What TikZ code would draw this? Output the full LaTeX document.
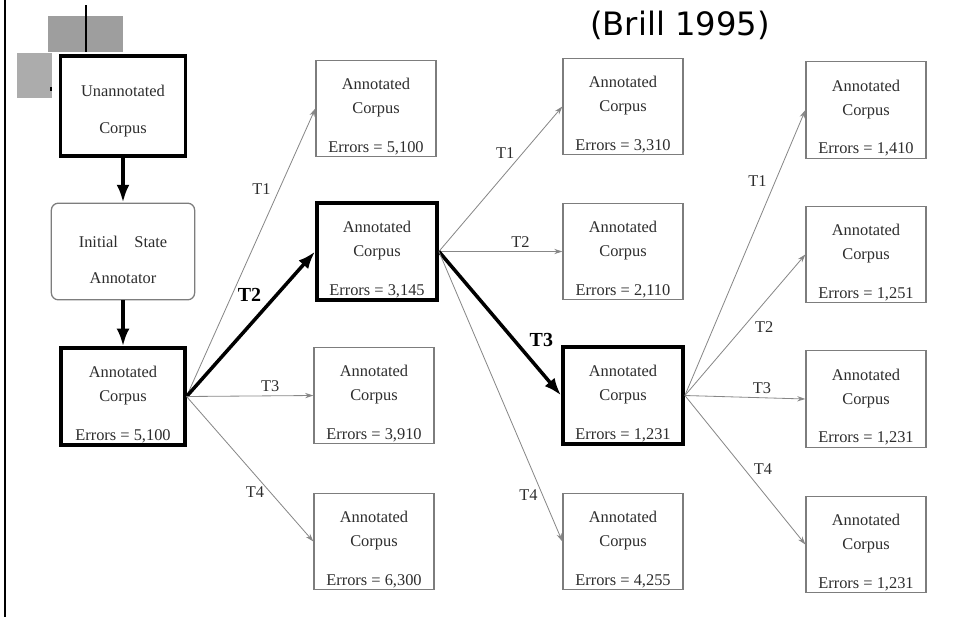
\documentclass[tikz,border=0pt]{standalone}
\usepackage{fontspec}
\setmainfont{Liberation Serif}
\newfontfamily\titlefont{DejaVu Sans}
\usetikzlibrary{arrows.meta}
\definecolor{boxgray}{RGB}{125,125,125}
\definecolor{linegray}{RGB}{135,135,135}
\definecolor{txtdark}{RGB}{45,45,45}
\definecolor{decogray}{RGB}{158,158,158}
\definecolor{decolight}{RGB}{172,172,172}
\tikzset{
  corpus/.style={rectangle, draw=boxgray, fill=white, line width=1.1pt,
    minimum width=3.6cm, minimum height=2.9cm, align=center, inner sep=0pt,
    font=\fontsize{14}{20.5}\selectfont, text=txtdark, text height=77pt},
  bestcorpus/.style={corpus, draw=black, line width=3.2pt},
  annotator/.style={corpus, rounded corners=6pt, minimum width=4.3cm},
  trans/.style={-{Stealth[length=7pt,width=4.5pt]}, draw=linegray, line width=0.7pt},
  best/.style={-{Latex[length=15pt,width=11pt]}, line width=3pt},
  tlbl/.style={font=\fontsize{14}{16}\selectfont, text=txtdark, inner sep=1pt},
  blbl/.style={font=\fontsize{17}{19}\selectfont\bfseries, inner sep=1pt}
}

\begin{document}
\begin{tikzpicture}[x=0.03cm, y=-0.03cm]
  \useasboundingbox (0,0) rectangle (953,617);

  % slide decoration
  \draw[line width=1.7pt] (5,0) -- (5,617);
  \fill[decogray] (48,16) rectangle (123,52);
  \fill[decolight] (17,53) rectangle (52,98);
  \draw[line width=2.4pt] (86,5) -- (86,52);
  \fill (50,87) rectangle (52,91);
  \node[font=\titlefont\fontsize{27.5}{30}\selectfont] (title) at (680,25) {(Brill 1995)};

  % start
  \node[bestcorpus, minimum width=3.75cm, minimum height=3cm, text height=49.5pt]
    (unann) at (123,106) {Unannotated\\[11pt]Corpus};
  \node[annotator, text height=55.5pt] (init) at (123,251.5)
    {Initial\hspace{14pt}State\\[11pt]Annotator};
  \node[bestcorpus, minimum width=3.7cm] (ann0) at (123,396.5)
    {Annotated\\Corpus\\[12.5pt]Errors = 5,100};

  % first step
  \node[corpus] (c1a) at (376,108.5) {Annotated\\Corpus\\[12.5pt]Errors = 5,100};
  \node[bestcorpus] (c1b) at (377,251.5) {Annotated\\Corpus\\[12.5pt]Errors = 3,145};
  \node[corpus] (c1c) at (374,395.5) {Annotated\\Corpus\\[12.5pt]Errors = 3,910};
  \node[corpus] (c1d) at (374,541.5) {Annotated\\Corpus\\[12.5pt]Errors = 6,300};

  % second step
  \node[corpus] (c2a) at (623,106.5) {Annotated\\Corpus\\[12.5pt]Errors = 3,310};
  \node[corpus] (c2b) at (623,251.5) {Annotated\\Corpus\\[12.5pt]Errors = 2,110};
  \node[bestcorpus] (c2c) at (623,395.5) {Annotated\\Corpus\\[12.5pt]Errors = 1,231};
  \node[corpus] (c2d) at (623,541.5) {Annotated\\Corpus\\[12.5pt]Errors = 4,255};

  % third step
  \node[corpus] (c3a) at (866,110) {Annotated\\Corpus\\[12.5pt]Errors = 1,410};
  \node[corpus] (c3b) at (866,254.5) {Annotated\\Corpus\\[12.5pt]Errors = 1,251};
  \node[corpus] (c3c) at (866,399) {Annotated\\Corpus\\[12.5pt]Errors = 1,231};
  \node[corpus] (c3d) at (866,544.5) {Annotated\\Corpus\\[12.5pt]Errors = 1,231};

  % Paths
  \draw[best] (unann) -- (init);
  \draw[best] (init) -- (ann0);

  \draw[trans] (ann0.east) -- node[tlbl, pos=0.72, left=6pt] {T1} (c1a.west);
  \draw[best] (ann0.east) -- node[blbl, pos=0.62, above left=2pt] {T2} (c1b.west);
  \draw[trans] (ann0.east) -- node[tlbl, pos=0.66, above=2pt] {T3} (c1c.west);
  \draw[trans] (ann0.east) -- node[tlbl, pos=0.66, left=4pt] {T4} (c1d.west);

  \draw[trans] (c1b.east) -- node[tlbl, pos=0.68, left=6pt] {T1} (c2a.west);
  \draw[trans] (c1b.east) -- node[tlbl, pos=0.66, above=2pt] {T2} (c2b.west);
  \draw[best] (c1b.east) -- node[blbl, pos=0.7, above right=2pt] {T3} (c2c.west);
  \draw[trans] (c1b.east) -- node[tlbl, pos=0.84, left=3pt] {T4} (c2d.west);

  \draw[trans] (c2c.east) -- node[tlbl, pos=0.75, left=6pt] {T1} (c3a.west);
  \draw[trans] (c2c.east) -- node[tlbl, pos=0.55, below right=2pt] {T2} (c3b.west);
  \draw[trans] (c2c.east) -- node[tlbl, pos=0.64, above=2pt] {T3} (c3c.west);
  \draw[trans] (c2c.east) -- node[tlbl, pos=0.55, above right=1pt] {T4} (c3d.west);
\end{tikzpicture}
\end{document}
